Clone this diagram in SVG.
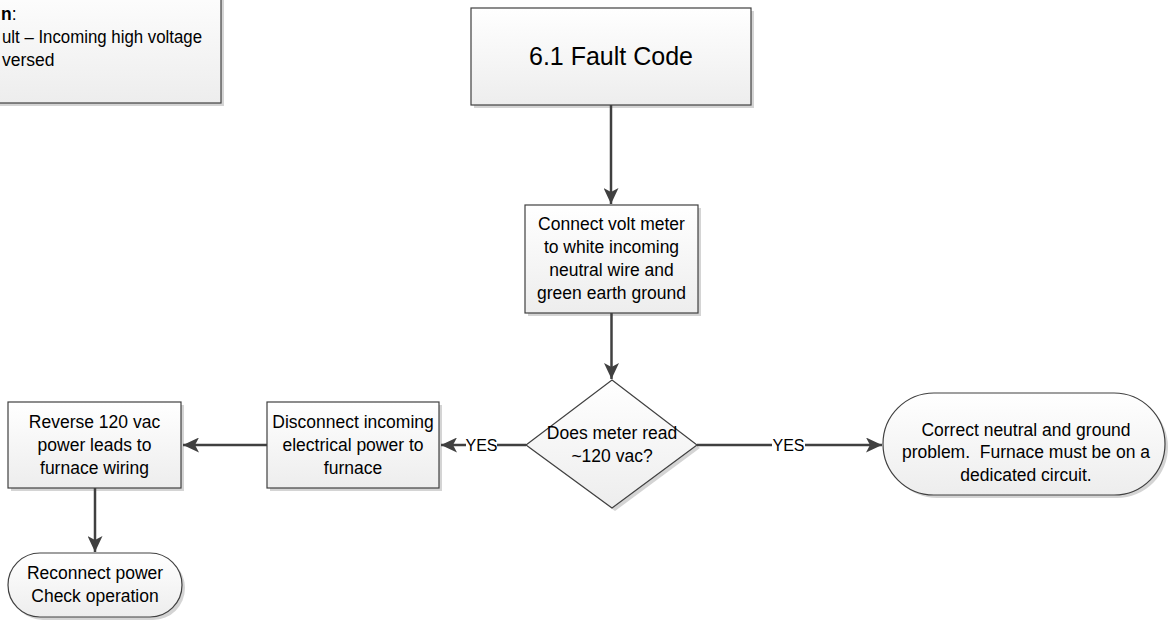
<svg xmlns="http://www.w3.org/2000/svg" width="1175" height="622" viewBox="0 0 1175 622">
<style>
.shape{fill:url(#g);stroke:#404040;stroke-width:1.2}
.shadow{fill:#d4d4d4}
.t{font-family:"Liberation Sans",Arial,sans-serif;font-size:17.5px;fill:#000;text-anchor:middle}
.conn{stroke:#404040;stroke-width:2.5;fill:none}
.lbl{font-family:"Liberation Sans",Arial,sans-serif;font-size:16px;fill:#000;text-anchor:middle}
</style>
<defs>
<linearGradient id="g" x1="0" y1="0" x2="0" y2="1">
<stop offset="0" stop-color="#ffffff"/>
<stop offset="1" stop-color="#ededed"/>
</linearGradient>
<marker id="ah" markerUnits="userSpaceOnUse" markerWidth="17" markerHeight="15" refX="16" refY="7.5" orient="auto">
<path d="M0,0 L16,7.5 L0,15 L4,7.5 Z" fill="#404040"/>
</marker>
</defs>
<rect width="1175" height="622" fill="#ffffff"/>

<g id="note">
<rect class="shadow" x="-17" y="-17" width="241" height="123"/>
<rect class="shape" x="-20" y="-20" width="241" height="123"/>
<text class="t" x="1" y="20" style="text-anchor:start"><tspan font-weight="bold">n</tspan>:</text>
<text class="t" x="2" y="43" style="text-anchor:start" textLength="200" lengthAdjust="spacingAndGlyphs">ult – Incoming high voltage</text>
<text class="t" x="2" y="66" style="text-anchor:start">versed</text>
</g>

<g id="fault">
<rect class="shadow" x="474" y="11" width="280" height="97"/>
<rect class="shape" x="471" y="8" width="280" height="97"/>
<text class="t" x="611" y="65" style="font-size:25px">6.1 Fault Code</text>
</g>

<g id="connect">
<rect class="shadow" x="528" y="208" width="173" height="108"/>
<rect class="shape" x="525" y="205" width="173" height="108"/>
<text class="t" x="611.5" y="230">Connect volt meter</text>
<text class="t" x="611.5" y="253">to white incoming</text>
<text class="t" x="611.5" y="276">neutral wire and</text>
<text class="t" x="611.5" y="299">green earth ground</text>
</g>

<g id="decision">
<polygon class="shadow" points="615,383 700,448 615,511 529,448"/>
<polygon class="shape" points="612,380 697,445 612,508 526,445"/>
<text class="t" x="612" y="439">Does meter read</text>
<text class="t" x="612" y="462">~120 vac?</text>
</g>

<g id="disconnect">
<rect class="shadow" x="270" y="405" width="172" height="86"/>
<rect class="shape" x="267" y="402" width="172" height="86"/>
<text class="t" x="353" y="428">Disconnect incoming</text>
<text class="t" x="353" y="451">electrical power to</text>
<text class="t" x="353" y="474">furnace</text>
</g>

<g id="reverse">
<rect class="shadow" x="11" y="405" width="173" height="86"/>
<rect class="shape" x="8" y="402" width="173" height="86"/>
<text class="t" x="94.5" y="428">Reverse 120 vac</text>
<text class="t" x="94.5" y="451">power leads to</text>
<text class="t" x="94.5" y="474">furnace wiring</text>
</g>

<g id="correct">
<rect class="shadow" x="886" y="396" width="282" height="102" rx="51" ry="51"/>
<rect class="shape" x="883" y="393" width="282" height="102" rx="51" ry="51"/>
<text class="t" x="1026" y="436">Correct neutral and ground</text>
<text class="t" x="1026" y="458" style="white-space:pre">problem.  Furnace must be on a</text>
<text class="t" x="1026" y="481">dedicated circuit.</text>
</g>

<g id="reconnect">
<rect class="shadow" x="11" y="556" width="174" height="64" rx="32" ry="32"/>
<rect class="shape" x="8" y="553" width="174" height="64" rx="32" ry="32"/>
<text class="t" x="95" y="579">Reconnect power</text>
<text class="t" x="95" y="602">Check operation</text>
</g>

<g id="connectors">
<line class="conn" x1="611" y1="105" x2="611" y2="204" marker-end="url(#ah)"/>
<line class="conn" x1="611.5" y1="313" x2="611.5" y2="379" marker-end="url(#ah)"/>
<line class="conn" x1="526" y1="445" x2="441" y2="445" marker-end="url(#ah)"/>
<rect x="466" y="437" width="31" height="16" fill="#ffffff"/>
<text class="lbl" x="481.5" y="451">YES</text>
<line class="conn" x1="267" y1="445" x2="183" y2="445" marker-end="url(#ah)"/>
<line class="conn" x1="697" y1="445" x2="882" y2="445" marker-end="url(#ah)"/>
<rect x="772" y="437" width="33" height="16" fill="#ffffff"/>
<text class="lbl" x="788.5" y="451">YES</text>
<line class="conn" x1="95" y1="488" x2="95" y2="552" marker-end="url(#ah)"/>
</g>
</svg>
